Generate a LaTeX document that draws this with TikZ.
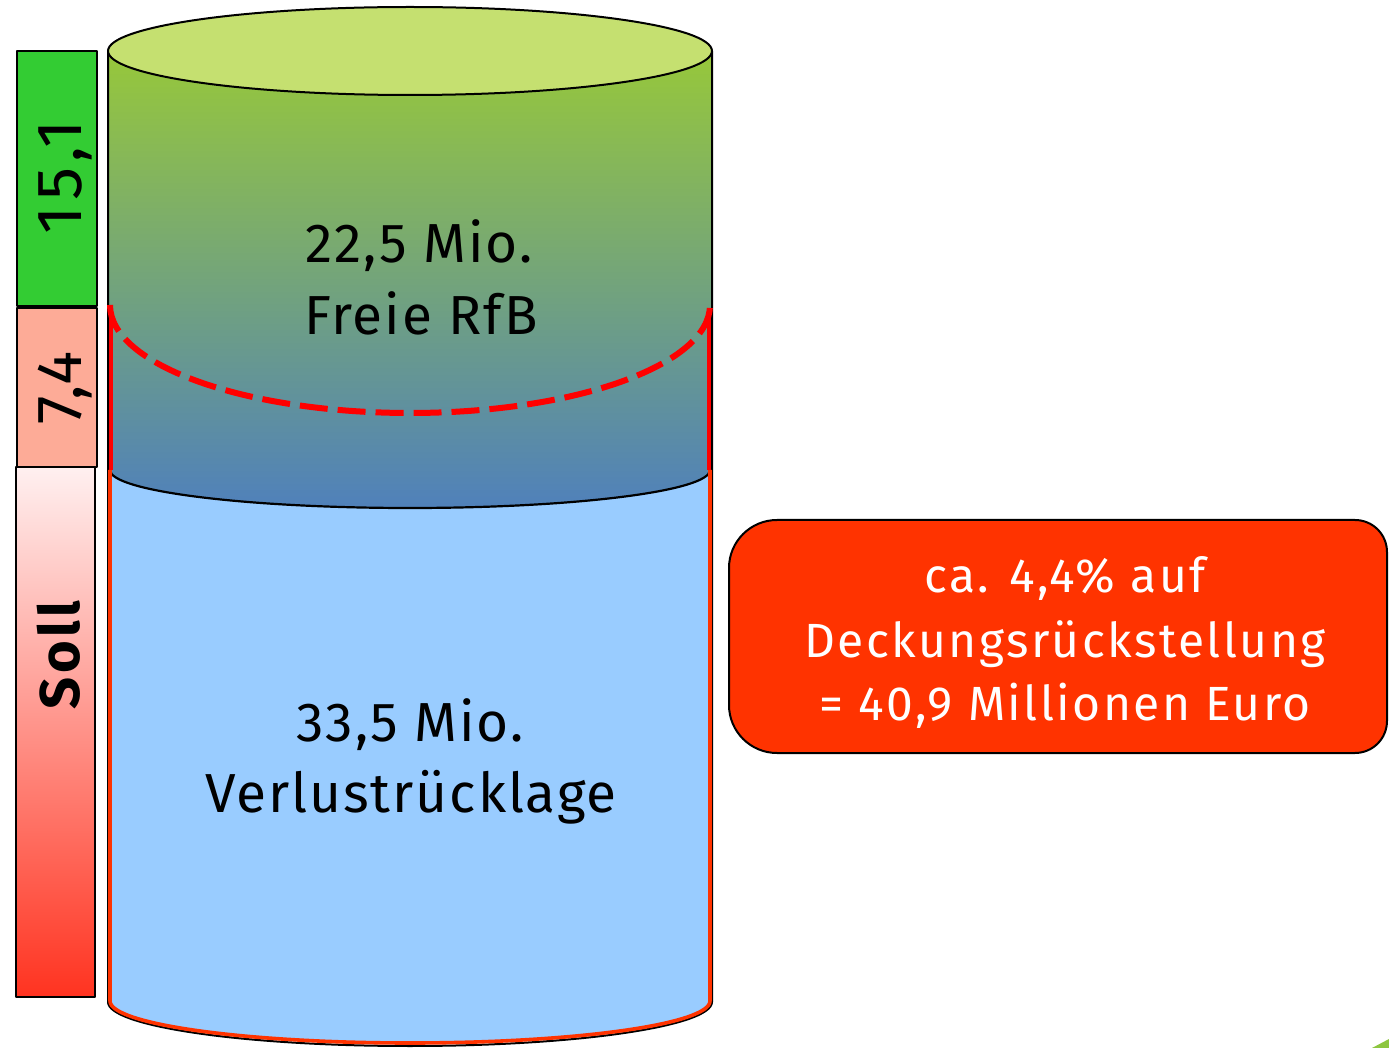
\documentclass[tikz,border=0pt]{standalone}
\usepackage{fontspec}
\setmainfont{Fira Sans}
\newfontfamily\cylfont[LetterSpace=3.5]{Fira Sans}
\newfontfamily\boxfont[LetterSpace=5]{Fira Sans}
\newfontfamily\barfontA[LetterSpace=8,FakeStretch=1.03]{Fira Sans}
\newfontfamily\barfontB[LetterSpace=3]{Fira Sans}
\newfontfamily\barfontC[LetterSpace=6]{Fira Sans}
\definecolor{topgreen}{HTML}{C5E070}
\definecolor{gtop}{HTML}{97C83A}
\definecolor{gmid}{HTML}{74A598}
\definecolor{gbot}{HTML}{4F80BC}
\definecolor{lightblue}{HTML}{99CCFF}
\definecolor{orangered}{HTML}{FF3300}
\definecolor{barGreen}{HTML}{33CC33}
\definecolor{barSalmon}{HTML}{FDAB97}
\definecolor{sollTop}{HTML}{FFF0F0}
\definecolor{sollBot}{HTML}{FF3320}
\definecolor{cornerGreen}{HTML}{8DC63F}
\tikzset{
  barbox/.style={draw=black, line width=1pt},
  bartext/.style={rotate=90, anchor=base, inner sep=0pt},
  cyltext/.style={anchor=base, font=\cylfont\fontsize{27.5}{33}\selectfont, inner sep=0pt},
  boxtext/.style={anchor=base, text=white, font=\boxfont\fontsize{24}{29}\selectfont, inner sep=0pt},
}
\begin{document}
\begin{tikzpicture}[x=0.5pt,y=-0.5pt,line join=round]
\useasboundingbox (0,0) rectangle (1389,1048);
\clip (0,0) rectangle (1389,1048);

% gradient body
\shade[top color=gtop, middle color=gmid, bottom color=gbot] (108,51) rectangle (712,512);
% outer outline
\draw[black, line width=1pt] (108,51) -- (108,1002) arc[start angle=180,end angle=0,x radius=302,y radius=44] -- (712,51);
% light blue cylinder
\fill[lightblue] (110,470) arc[start angle=180,end angle=0,x radius=300,y radius=38] -- (710,1001) arc[start angle=0,end angle=180,x radius=300,y radius=42] -- cycle;
\draw[black, line width=1.1pt] (110,470) arc[start angle=180,end angle=0,x radius=300,y radius=38];
\draw[orangered, line width=1.8pt] (110,470) -- (110,1001) arc[start angle=180,end angle=0,x radius=300,y radius=42] -- (710,470);
% red solid side lines
\draw[red, line width=2pt] (111,305) -- (111,470);
\draw[red, line width=2pt] (709,312) -- (709,470);
% top ellipse
\draw[black, line width=1pt, fill=topgreen] (410,51) ellipse[x radius=302, y radius=44];
% dashed red arc
\draw[red, line width=3pt, dash pattern=on 14pt off 5pt] (110,305) arc[start angle=180,end angle=0,x radius=300,y radius=108];

% left bars
\draw[barbox, fill=barGreen] (17,51) rectangle (97,306);
\draw[barbox, fill=barSalmon] (17,308) rectangle (97,467);
\shade[top color=sollTop, bottom color=sollBot] (16,467) rectangle (95,997);
\draw[barbox] (16,467) rectangle (95,997);

\node[bartext, font=\barfontA\fontsize{32}{38}\selectfont] (v151) at (81,177) {15,1};
\node[bartext, font=\barfontB\fontsize{32}{38}\selectfont] (v74) at (81,388) {7,4};
\node[bartext, font=\barfontC\bfseries\fontsize{28}{34}\selectfont] (soll) at (79,655) {Soll};

% cylinder texts
\node[cyltext] (rfbA) at (419,263) {22,5 Mio.};
\node[cyltext] (rfbB) at (421,335) {Freie RfB};
\node[cyltext] (vrlA) at (410,741) {33,5 Mio.};
\node[cyltext] (vrlB) at (411,812) {Verlustrücklage};

% red box
\draw[black, line width=1pt, fill=orangered]
  (777,520) -- (1355,520) arc[start angle=-90,end angle=0,radius=32]
  -- (1387,721) arc[start angle=0,end angle=90,radius=32]
  -- (777,753) arc[start angle=90,end angle=180,radius=48]
  -- (729,568) arc[start angle=180,end angle=270,radius=48] -- cycle;
\node[boxtext] (boxA) at (1065,593) {ca. 4,4\% auf};
\node[boxtext] (boxB) at (1065,657) {Deckungsrückstellung};
\node[boxtext] (boxC) at (1065,720) {= 40,9 Millionen Euro};

% corner fragment
\fill[cornerGreen] (1372,1048) -- (1389,1039) -- (1389,1048) -- cycle;
\end{tikzpicture}
\end{document}
